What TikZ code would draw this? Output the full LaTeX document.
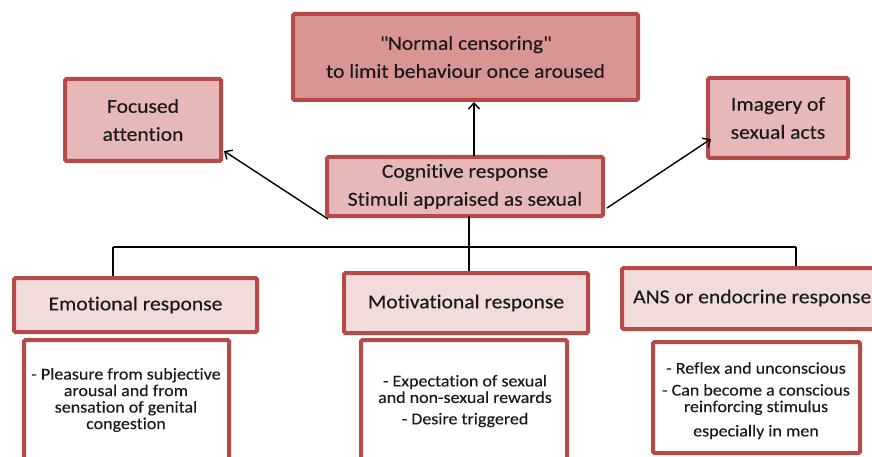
\documentclass[tikz,border=0pt]{standalone}
\usepackage{fontspec}
\setmainfont{Carlito}[Ligatures={NoCommon},FakeStretch=1.09,FakeBold=0.25]
\usetikzlibrary{shadows,arrows.meta}
\definecolor{bord}{HTML}{B64A48}
\definecolor{fdark}{HTML}{D99594}
\definecolor{fmid}{HTML}{E6B8B7}
\definecolor{flight}{HTML}{F2DCDB}
\definecolor{txt}{HTML}{1A1A1A}
\begin{document}
\begin{tikzpicture}[x=1pt,y=-1pt,
  box/.style={draw=bord,line width=4pt,rounded corners=1.5pt,inner sep=0pt,
    text=txt,align=center,
    drop shadow={shadow xshift=1.5pt,shadow yshift=-1.5pt,opacity=0.25}},
  big/.style={box,font=\fontsize{19.8}{28}\selectfont},
  head/.style={box,fill=flight,font=\fontsize{19.8}{24}\selectfont},
  detail/.style={box,fill=white},
  htext/.style={text=txt,inner sep=0pt,font=\fontsize{19.8}{24}\selectfont},
  dtext/.style={text=txt,align=center,inner sep=0pt,font=\fontsize{16.5}{16.5}\selectfont},
  conn/.style={line width=1.4pt,black},
  arr/.style={conn,-{Straight Barb[length=6pt,width=11pt,line width=1.4pt]}}]
\useasboundingbox (0,0) rectangle (872,457);
\fill[white] (0,0) rectangle (872,457);

\node[big,fill=fdark,minimum width=345pt,minimum height=86pt] (top) at (465.5,57)
  {\textquotedbl Normal censoring\textquotedbl\\to limit behaviour once aroused};
\node[big,fill=fmid,minimum width=156pt,minimum height=82pt] (focus) at (143,120)
  {Focused\\attention};
\node[big,fill=fmid,minimum width=140pt,minimum height=80pt] (imag) at (778,118)
  {Imagery of\\sexual acts};
\node[big,fill=fmid,minimum width=276pt,minimum height=59pt] (cog) at (465,186.5)
  {Cognitive response\\Stimuli appraised as sexual};

\node[head,minimum width=243pt,minimum height=54pt] (emo) at (135.5,305) {Emotional response};
\node[head,minimum width=244pt,minimum height=60pt] (mot) at (466,303) {Motivational response};
\node[head,minimum width=256pt,minimum height=61pt] (ans) at (750,298.5) {};
\node[htext,anchor=west] (anst) at (633,298) {ANS or endocrine response};

\node[detail,minimum width=205pt,minimum height=130pt] (emod) at (126.5,405) {};
\node[detail,minimum width=206pt,minimum height=130pt] (motd) at (464,405) {};
\node[detail,minimum width=207pt,minimum height=111pt] (ansd) at (756.5,397.5) {};

\node[dtext] (emot) at (126,400) {- Pleasure from subjective\\arousal and from\\sensation of genital\\congestion};
\node[dtext] (mott1) at (465,389) {- Expectation of sexual\\and non-sexual rewards};
\node[dtext] (mott2) at (465,420) {- Desire triggered};
\node[dtext] (anst1) at (756,368) {- Reflex and unconscious};
\node[dtext] (anst2) at (756,399.5) {- Can become a conscious\\reinforcing stimulus};
\node[dtext] (anst3) at (756,432) {especially in men};

\coordinate (hl) at (113,247);
\coordinate (hr) at (796,247);
\coordinate (cogb) at (469,216);
\coordinate (cogbl) at (328,219);
\coordinate (cogr) at (607,208);
\coordinate (cogt) at (474,156);
\draw[conn] (cogb) -- (mot.north -| cogb);
\draw[conn] (hl) -- (hr);
\draw[conn] (hl) -- (emo.north -| hl);
\draw[conn] (hr) -- (ans.north -| hr);
\draw[arr] (cogbl) -- (224,151);
\draw[arr] (cogr) -- (711,139);
\draw[arr] (cogt) -- (top.south -| cogt);
\end{tikzpicture}
\end{document}
